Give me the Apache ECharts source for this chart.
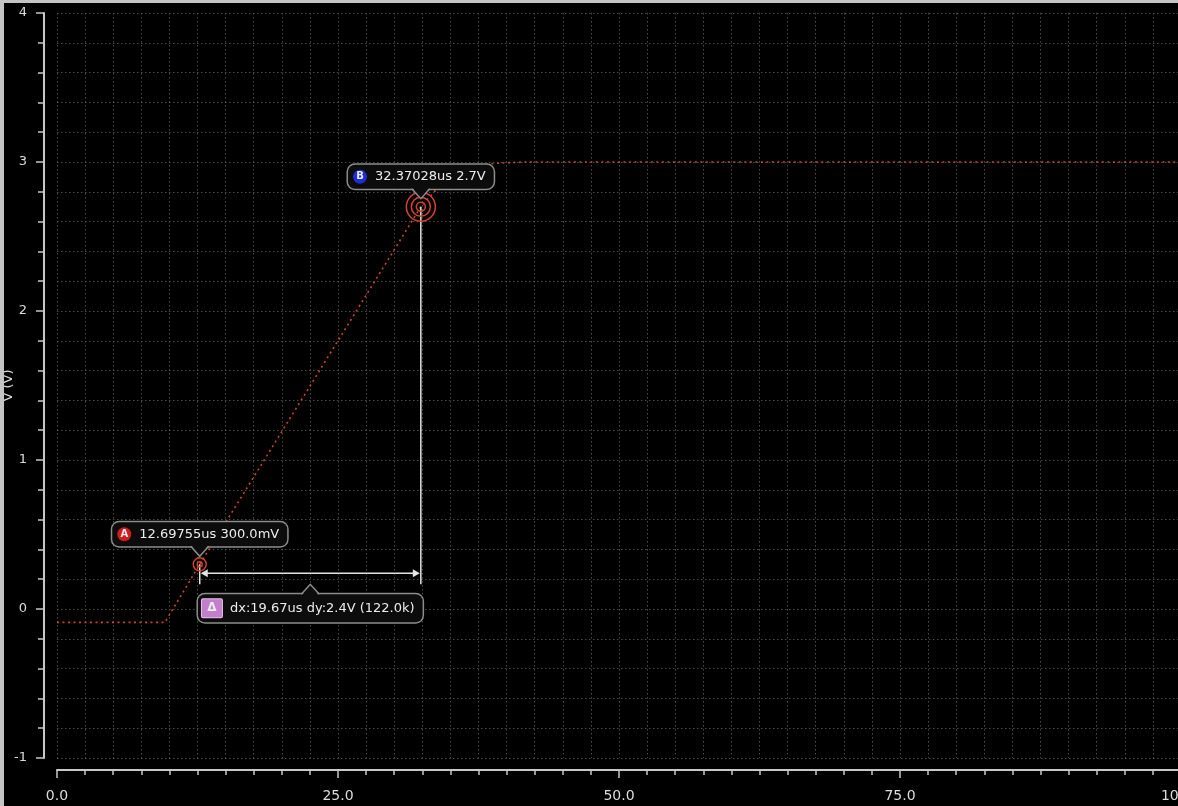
<!DOCTYPE html>
<html>
<head>
<meta charset="utf-8">
<title>Transient ramp with cursors</title>
<script src="https://cdn.jsdelivr.net/npm/echarts@6/dist/echarts.min.js"></script>
<style>
    html, body { margin: 0; padding: 0; width: 1178px; height: 806px; overflow: hidden; background: #c4c4c4; }
    #chart { position: absolute; left: 4px; top: 3px; width: 1174px; height: 803px; background: #000; }
</style>
</head>
<body>
<div id="chart"></div>
<script>
// waveform (time in us, voltage in V)
const timeUs = [0, 9.6, 12.7, 32.37, 34.5, 36.5, 38.8, 41.5, 100];
const voltV = [-0.09, -0.09, 0.3, 2.7, 2.88, 2.96, 2.99, 3.0, 3.0];

// cursors A and B
const cursorNames = ['A', 'B'];
const cursorX = [12.69755, 32.37028];
const cursorY = [0.3, 2.7];

// axis ranges
const xRange = [0, 100, 25];
const yRange = [-1, 4, 1];

const fmtT = t => t.toFixed(5) + 'us';
const fmtV = v => Math.abs(v) < 1 ? (v * 1000).toFixed(1) + 'mV' : v.toFixed(1) + 'V';

const dx = cursorX[1] - cursorX[0];
const dy = cursorY[1] - cursorY[0];
const slope = dy / dx * 1e6 / 1000; // V/s in k
const deltaText = 'dx:' + dx.toFixed(2) + 'us dy:' + dy.toFixed(1) + 'V (' + slope.toFixed(1) + 'k)';

const FONT = '"DejaVu Sans", sans-serif';
const txtColor = '#ececec';
const boxFill = '#0c0c0c';
const boxBorder = '#8c8c8c';
const wireColor = '#e4e4e4';
const ringColor = '#d2452a';
const iconColors = ['#cf1d1d', '#1e2ed6'];

const myChart = echarts.init(document.getElementById('chart'));

// label box with a pointer notch (dir: 'down' notch under box, 'up' notch above box)
function labelBox(cx, edgeY, dir, text, rich) {
    const parts = [];
    parts.push({
        type: 'text',
        x: cx,
        y: edgeY,
        style: {
            text: text,
            align: 'center',
            verticalAlign: dir === 'down' ? 'bottom' : 'top',
            fill: txtColor,
            font: '13px ' + FONT,
            backgroundColor: boxFill,
            borderColor: boxBorder,
            borderWidth: 1.5,
            borderRadius: 7,
            padding: dir === 'down' ? [4, 8, 4, 5] : [5, 8, 5, 4],
            rich: rich
        }
    });
    const s = dir === 'down' ? 1 : -1;
    parts.push({
        type: 'polygon',
        shape: { points: [[cx - 9, edgeY - 2 * s], [cx, edgeY + 10 * s], [cx + 9, edgeY - 2 * s]] },
        style: { fill: boxFill }
    });
    parts.push({
        type: 'polyline',
        shape: { points: [[cx - 9, edgeY], [cx, edgeY + 10 * s], [cx + 9, edgeY]] },
        style: { stroke: boxBorder, lineWidth: 1.5, fill: null }
    });
    return parts;
}

function iconStyle(color) {
    return {
        width: 14, height: 14, lineHeight: 14, borderRadius: 7,
        backgroundColor: color, color: '#fff', align: 'center',
        fontSize: 10, fontWeight: 'bold', fontFamily: FONT
    };
}

function renderCursors(params, api) {
    const pA = api.coord([cursorX[0], cursorY[0]]);
    const pB = api.coord([cursorX[1], cursorY[1]]);
    const lineY = Math.max(pA[1], pB[1]) + 9;
    const midX = (pA[0] + pB[0]) / 2;
    let children = [];

    // drop lines
    [pA, pB].forEach(p => {
        children.push({
            type: 'line',
            shape: { x1: p[0], y1: p[1], x2: p[0], y2: lineY + 11 },
            style: { stroke: wireColor, lineWidth: 1.5 }
        });
    });
    // delta arrow
    children.push({
        type: 'line',
        shape: { x1: pA[0] + 5, y1: lineY, x2: pB[0] - 5, y2: lineY },
        style: { stroke: wireColor, lineWidth: 1.5 }
    });
    children.push({
        type: 'polygon',
        shape: { points: [[pA[0] + 1, lineY], [pA[0] + 8, lineY - 4], [pA[0] + 8, lineY + 4]] },
        style: { fill: wireColor }
    });
    children.push({
        type: 'polygon',
        shape: { points: [[pB[0] - 1, lineY], [pB[0] - 8, lineY - 4], [pB[0] - 8, lineY + 4]] },
        style: { fill: wireColor }
    });

    // cursor A ring
    [6.5, 2.5].forEach(r => {
        children.push({
            type: 'circle',
            shape: { cx: pA[0], cy: pA[1], r: r },
            style: { fill: null, stroke: ringColor, lineWidth: 1.4 }
        });
    });
    // cursor B rings
    [4.5, 9.5, 14.5].forEach(r => {
        children.push({
            type: 'circle',
            shape: { cx: pB[0], cy: pB[1], r: r },
            style: { fill: null, stroke: ringColor, lineWidth: 1.5 }
        });
    });

    // cursor labels
    [pA, pB].forEach((p, i) => {
        const txt = '{ic|' + cursorNames[i] + '}{gap|}{t|' + fmtT(cursorX[i]) + ' ' + fmtV(cursorY[i]) + '}';
        children = children.concat(labelBox(p[0], p[1] - 18, 'down', txt, {
            ic: iconStyle(iconColors[i]),
            gap: { width: 8, height: 14 },
            t: { fontSize: 13, fontFamily: FONT, color: txtColor, lineHeight: 16 }
        }));
    });

    // delta label
    const dTxt = '{ic|Δ}{gap|}{t|' + deltaText + '}';
    children = children.concat(labelBox(midX, lineY + 21, 'up', dTxt, {
        ic: {
            width: 20, height: 18, lineHeight: 18, backgroundColor: '#c47fcc',
            borderColor: '#e7c0ea', borderWidth: 1, borderRadius: 1,
            color: '#fff', align: 'center', fontSize: 12, fontWeight: 'bold', fontFamily: FONT
        },
        gap: { width: 8, height: 18 },
        t: { fontSize: 13, fontFamily: FONT, color: txtColor, lineHeight: 18 }
    }));

    return { type: 'group', children: children };
}

const gridLine = { show: true, lineStyle: { color: '#4a4a4a', width: 1, type: [1.5, 2.5] } };
const axisGray = '#c8c8c8';

myChart.setOption({
    backgroundColor: '#000',
    animation: false,
    grid: { left: 53, top: 10, bottom: 48, width: 1124, containLabel: false, outerBoundsMode: 'none' },
    xAxis: {
        type: 'value',
        min: xRange[0],
        max: xRange[1],
        interval: xRange[2],
        offset: 12,
        axisLine: { show: true, onZero: false, lineStyle: { color: axisGray, width: 2 } },
        axisTick: { show: true, length: 8, lineStyle: { color: axisGray, width: 1.5 } },
        minorTick: { show: true, splitNumber: 10, length: 5, lineStyle: { color: axisGray, width: 1.5 } },
        splitLine: gridLine,
        minorSplitLine: gridLine,
        axisLabel: {
            color: '#dcdcdc', fontSize: 14, fontFamily: FONT, margin: 19,
            showMaxLabel: true, showMinLabel: true, hideOverlap: false,
            formatter: v => v.toFixed(1)
        }
    },
    yAxis: {
        type: 'value',
        min: yRange[0],
        max: yRange[1],
        interval: yRange[2],
        offset: 13,
        name: 'V (V)',
        nameLocation: 'middle',
        nameGap: 29,
        nameMoveOverlap: false,
        nameTextStyle: { color: '#dcdcdc', fontSize: 13, fontFamily: FONT },
        axisLine: { show: true, onZero: false, lineStyle: { color: axisGray, width: 2 } },
        axisTick: { show: true, length: 8, lineStyle: { color: axisGray, width: 1.5 } },
        minorTick: { show: true, splitNumber: 5, length: 6, lineStyle: { color: axisGray, width: 1.5 } },
        splitLine: gridLine,
        minorSplitLine: gridLine,
        axisLabel: { color: '#dcdcdc', fontSize: 13, fontFamily: FONT, margin: 17 }
    },
    series: [{
        name: 'V',
        type: 'line',
        data: timeUs.map((t, i) => [t, voltV[i]]),
        showSymbol: false,
        lineStyle: { color: '#c8482d', width: 1.6, type: [2, 3.5] },
        z: 2
    }, {
        name: 'cursors',
        type: 'custom',
        data: [[cursorX[0], cursorY[0]]],
        encode: { x: 0, y: 1 },
        clip: false,
        silent: true,
        renderItem: renderCursors,
        z: 5
    }]
});
</script>
</body>
</html>
